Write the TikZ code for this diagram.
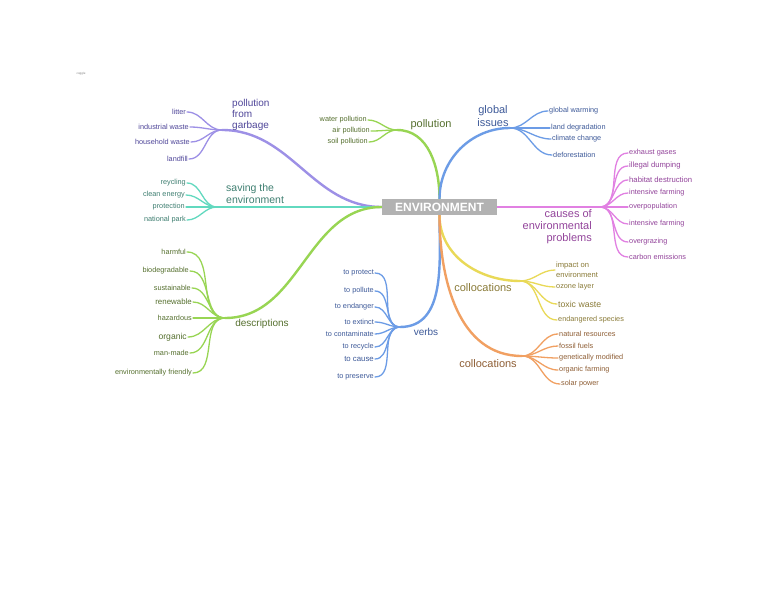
\documentclass[tikz,border=0pt]{standalone}
\usepackage{fontspec}
\setmainfont{Liberation Sans}
\usetikzlibrary{backgrounds}
\definecolor{cgEnv}{HTML}{B2B2B2}
\definecolor{garLine}{HTML}{9D90E6}
\definecolor{garTxt}{HTML}{4F4699}
\definecolor{savLine}{HTML}{62D9BF}
\definecolor{savTxt}{HTML}{3F7F71}
\definecolor{grnLine}{HTML}{98D553}
\definecolor{grnTxt}{HTML}{56702F}
\definecolor{bluLine}{HTML}{6C9CE6}
\definecolor{bluTxt}{HTML}{3E5A99}
\definecolor{magLine}{HTML}{E180E2}
\definecolor{magTxt}{HTML}{93449B}
\definecolor{yelLine}{HTML}{E9D957}
\definecolor{yelTxt}{HTML}{8A7B38}
\definecolor{orgLine}{HTML}{F1A062}
\definecolor{orgTxt}{HTML}{8F5F36}
\tikzset{
  % central topic
  cg/root/.style={
    fill=cgEnv, text=white, inner sep=0pt, minimum width=115pt, minimum height=16pt,
    font=\fontsize{12}{14}\selectfont\bfseries
  },
  % first level topics
  cg/topic/.style={inner sep=0pt, font=\fontsize{11}{12}\selectfont},
  % leaves, left and right of their hub
  cg/leafL/.style={anchor=east, inner sep=1pt, font=\fontsize{7.3}{8}\selectfont},
  cg/leafR/.style={anchor=west, inner sep=1pt, font=\fontsize{7.3}{8}\selectfont},
  % connectors
  cg/branch/.style={line width=2.4pt, line cap=round},
  cg/twig/.style={line width=1.3pt, line cap=round},
}

\begin{document}
\begin{tikzpicture}[x=1pt,y=-1pt]
  \useasboundingbox (0,0) rectangle (768,594);
  \node[font=\fontsize{3}{3}\selectfont, text=gray] (logo) at (81,74) {coggle};
  \node[cg/root] (env) at (439.5,207) {ENVIRONMENT};
  % hubs
  \coordinate (hubG) at (222,130);
  \coordinate (hubS) at (217,207);
  \coordinate (hubP) at (397,130);
  \coordinate (hubI) at (510,128);
  \coordinate (hubC) at (600,207);
  \coordinate (hubD) at (225,318);
  \coordinate (hubV) at (400,327);
  \coordinate (hubY) at (520,281);
  \coordinate (hubO) at (522,356);
  % pollution from garbage
  \node[cg/topic, text=garTxt, align=left, anchor=west, font=\fontsize{10}{11}\selectfont] (garL) at (232,115) {pollution\\from\\garbage};
  \node[cg/leafL, text=garTxt] (g1) at (187,112) {litter};
  \node[cg/leafL, text=garTxt] (g2) at (190,127) {industrial waste};
  \node[cg/leafL, text=garTxt] (g3) at (191,142) {household waste};
  \node[cg/leafL, text=garTxt] (g4) at (189,159) {landfill};
  % saving the environment
  \node[cg/topic, text=savTxt, align=left, anchor=west, font=\fontsize{10.5}{12}\selectfont] (savL) at (226,194) {saving the\\environment};
  \node[cg/leafL, text=savTxt] (s1) at (187,183) {reycling};
  \node[cg/leafL, text=savTxt] (s2) at (186,195) {clean energy};
  \node[cg/leafL, text=savTxt] (s3) at (186,207) {protection};
  \node[cg/leafL, text=savTxt] (s4) at (187,220) {national park};
  % pollution
  \node[cg/topic, text=grnTxt] (polL) at (431,125) {pollution};
  \node[cg/leafL, text=grnTxt] (p1) at (368,120) {water pollution};
  \node[cg/leafL, text=grnTxt] (p2) at (371,131) {air pollution};
  \node[cg/leafL, text=grnTxt] (p3) at (369,142) {soil pollution};
  % global issues
  \node[cg/topic, text=bluTxt, align=center, font=\fontsize{11}{12.5}\selectfont] (gloL) at (493,116) {global\\issues};
  \node[cg/leafR, text=bluTxt] (i1) at (548,111) {global warming};
  \node[cg/leafR, text=bluTxt] (i2) at (550,128) {land degradation};
  \node[cg/leafR, text=bluTxt] (i3) at (551,139) {climate change};
  \node[cg/leafR, text=bluTxt] (i4) at (552,155) {deforestation};
  % causes of environmental problems
  \node[cg/topic, text=magTxt, align=right, anchor=east] (cauL) at (592,227) {causes of\\environmental\\problems};
  \node[cg/leafR, text=magTxt] (c1) at (628,153) {exhaust gases};
  \node[cg/leafR, text=magTxt, font=\fontsize{7.7}{8}\selectfont] (c2) at (628,166) {illegal dumping};
  \node[cg/leafR, text=magTxt, font=\fontsize{7.7}{8}\selectfont] (c3) at (628,180) {habitat destruction};
  \node[cg/leafR, text=magTxt] (c4) at (628,193) {intensive farming};
  \node[cg/leafR, text=magTxt] (c5) at (628,207) {overpopulation};
  \node[cg/leafR, text=magTxt] (c6) at (628,224) {intensive farming};
  \node[cg/leafR, text=magTxt] (c7) at (628,242) {overgrazing};
  \node[cg/leafR, text=magTxt] (c8) at (628,257) {carbon emissions};
  % descriptions
  \node[cg/topic, text=grnTxt, font=\fontsize{10}{12}\selectfont] (desL) at (262,324) {descriptions};
  \node[cg/leafL, text=grnTxt] (d1) at (187,252) {harmful};
  \node[cg/leafL, text=grnTxt] (d2) at (190,271) {biodegradable};
  \node[cg/leafL, text=grnTxt] (d3) at (192,288) {sustainable};
  \node[cg/leafL, text=grnTxt, font=\fontsize{7.9}{9}\selectfont] (d4) at (193,302) {renewable};
  \node[cg/leafL, text=grnTxt] (d5) at (193,318) {hazardous};
  \node[cg/leafL, text=grnTxt, font=\fontsize{8.6}{9}\selectfont] (d6) at (188,337) {organic};
  \node[cg/leafL, text=grnTxt] (d7) at (190,353) {man-made};
  \node[cg/leafL, text=grnTxt] (d8) at (193,373) {environmentally friendly};
  % verbs
  \node[cg/topic, text=bluTxt, font=\fontsize{10}{12}\selectfont] (verL) at (426,332) {verbs};
  \node[cg/leafL, text=bluTxt] (v1) at (375,273) {to protect};
  \node[cg/leafL, text=bluTxt] (v2) at (375,291) {to pollute};
  \node[cg/leafL, text=bluTxt] (v3) at (375,307) {to endanger};
  \node[cg/leafL, text=bluTxt] (v4) at (375,322) {to extinct};
  \node[cg/leafL, text=bluTxt] (v5) at (375,334) {to contaminate};
  \node[cg/leafL, text=bluTxt] (v6) at (375,347) {to recycle};
  \node[cg/leafL, text=bluTxt, font=\fontsize{7.8}{9}\selectfont] (v7) at (375,359) {to cause};
  \node[cg/leafL, text=bluTxt] (v8) at (375,377) {to preserve};
  % collocations (yellow)
  \node[cg/topic, text=yelTxt] (colY) at (483,288) {collocations};
  \node[cg/leafR, text=yelTxt, align=left, font=\fontsize{7.6}{10}\selectfont] (y1) at (555,270) {impact on\\environment};
  \node[cg/leafR, text=yelTxt] (y2) at (555,287) {ozone layer};
  \node[cg/leafR, text=yelTxt, font=\fontsize{8.7}{10}\selectfont] (y3) at (557,304) {toxic waste};
  \node[cg/leafR, text=yelTxt] (y4) at (557,320) {endangered species};
  % collocations (orange)
  \node[cg/topic, text=orgTxt] (colO) at (488,364) {collocations};
  \node[cg/leafR, text=orgTxt] (o1) at (558,334) {natural resources};
  \node[cg/leafR, text=orgTxt] (o2) at (558,346) {fossil fuels};
  \node[cg/leafR, text=orgTxt] (o3) at (558,358) {genetically modified};
  \node[cg/leafR, text=orgTxt] (o4) at (558,370) {organic farming};
  \node[cg/leafR, text=orgTxt] (o5) at (560,384) {solar power};

  \begin{scope}[on background layer]
    \fill[white] (0,0) rectangle (768,594);
    \draw[cg/branch, draw=garLine] (env.west) to[out=180,in=0] (hubG);
    \draw[cg/branch, draw=savLine] (env.west) -- (hubS);
    \draw[cg/branch, draw=grnLine] (env.west) to[out=180,in=0] (hubD);
    \draw[cg/branch, draw=grnLine] (env.north) to[out=90,in=0] (hubP);
    \draw[cg/branch, draw=bluLine] (env.north) to[out=90,in=180] (hubI);
    \draw[cg/branch, draw=magLine] (env.east) -- (hubC);
    \draw[cg/branch, draw=bluLine] (env.south) to[out=-90,in=0] (hubV);
    \draw[cg/branch, draw=yelLine] (env.south) to[out=-90,in=180] (hubY);
    \draw[cg/branch, draw=orgLine] (env.south) to[out=-90,in=180] (hubO);
    \foreach \n in {g1,g2,g3,g4}{\draw[cg/twig, draw=garLine] (hubG) to[out=180,in=0] (\n.east);}
    \foreach \n in {s1,s2,s3,s4}{\draw[cg/twig, draw=savLine] (hubS) to[out=180,in=0] (\n.east);}
    \foreach \n in {p1,p2,p3}{\draw[cg/twig, draw=grnLine] (hubP) to[out=180,in=0] (\n.east);}
    \foreach \n in {i1,i2,i3,i4}{\draw[cg/twig, draw=bluLine] (hubI) to[out=0,in=180] (\n.west);}
    \foreach \n in {c1,c2,c3,c4,c5,c6,c7,c8}{\draw[cg/twig, draw=magLine] (hubC) to[out=0,in=180] (\n.west);}
    \foreach \n in {d1,d2,d3,d4,d5,d6,d7,d8}{\draw[cg/twig, draw=grnLine] (hubD) to[out=180,in=0] (\n.east);}
    \foreach \n in {v1,v2,v3,v4,v5,v6,v7,v8}{\draw[cg/twig, draw=bluLine] (hubV) to[out=180,in=0] (\n.east);}
    \foreach \n in {y1,y2,y3,y4}{\draw[cg/twig, draw=yelLine] (hubY) to[out=0,in=180] (\n.west);}
    \foreach \n in {o1,o2,o3,o4,o5}{\draw[cg/twig, draw=orgLine] (hubO) to[out=0,in=180] (\n.west);}
  \end{scope}
\end{tikzpicture}
\end{document}
